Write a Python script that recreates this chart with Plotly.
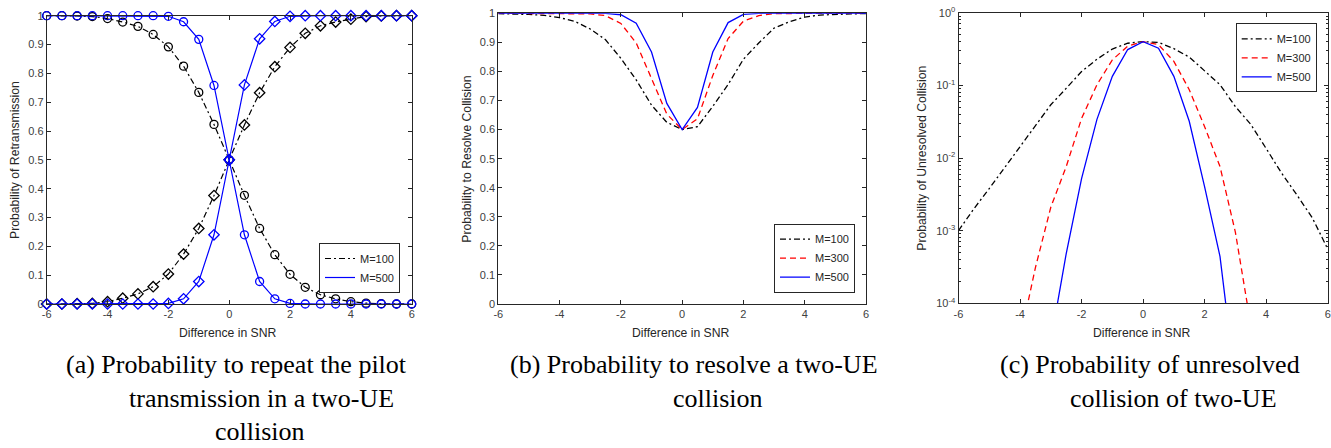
import plotly.graph_objects as go

W, H = 1331, 448

# ---------------- data ----------------
snr = [-6, -5.5, -5, -4.5, -4, -3.5, -3, -2.5, -2, -1.5, -1, -0.5, 0,
       0.5, 1, 1.5, 2, 2.5, 3, 3.5, 4, 4.5, 5, 5.5, 6]

# (a) probability of retransmission (two branches per M)
a_m100_circ = [1.000, 1.000, 0.999, 0.997, 0.990, 0.978, 0.963, 0.935, 0.892, 0.825, 0.734, 0.623, 0.500,
               0.377, 0.262, 0.171, 0.103, 0.058, 0.032, 0.018, 0.008, 0.003, 0.001, 0.000, 0.000]
a_m100_diam = [0.000, 0.000, 0.001, 0.002, 0.008, 0.020, 0.035, 0.060, 0.104, 0.173, 0.262, 0.376, 0.500,
               0.621, 0.733, 0.823, 0.890, 0.939, 0.965, 0.978, 0.988, 0.997, 0.999, 1.000, 1.000]
a_m500_circ = [1.000, 1.000, 1.000, 1.000, 1.000, 1.000, 1.000, 1.000, 0.998, 0.979, 0.918, 0.758, 0.500,
               0.240, 0.078, 0.018, 0.002, 0.000, 0.000, 0.000, 0.000, 0.000, 0.000, 0.000, 0.000]
a_m500_diam = [0.000, 0.000, 0.000, 0.000, 0.000, 0.000, 0.000, 0.000, 0.002, 0.018, 0.078, 0.240, 0.500,
               0.760, 0.920, 0.980, 0.998, 1.000, 1.000, 1.000, 1.000, 1.000, 1.000, 1.000, 1.000]

# (b) probability to resolve collision
b_m100 = [0.999, 0.998, 0.996, 0.993, 0.985, 0.972, 0.946, 0.909, 0.845, 0.771, 0.684, 0.625, 0.600,
          0.610, 0.680, 0.755, 0.842, 0.898, 0.949, 0.971, 0.987, 0.994, 0.997, 0.998, 0.999]
b_m300 = [1.000, 1.000, 1.000, 1.000, 1.000, 0.9997, 0.998, 0.992, 0.965, 0.898, 0.776, 0.653, 0.600,
          0.637, 0.786, 0.913, 0.973, 0.992, 0.999, 1.000, 1.000, 1.000, 1.000, 1.000, 1.000]
b_m500 = [1.000, 1.000, 1.000, 1.000, 1.000, 1.000, 1.000, 0.9995, 0.995, 0.966, 0.867, 0.690, 0.600,
          0.676, 0.867, 0.968, 0.996, 0.9996, 1.000, 1.000, 1.000, 1.000, 1.000, 1.000, 1.000]

# (c) probability of unresolved collision (log scale)
c_m100 = [1.0e-3, 2.0e-3, 3.8e-3, 7.4e-3, 1.48e-2, 2.8e-2, 5.4e-2, 9.1e-2, 0.155, 0.229, 0.316, 0.380, 0.400,
          0.390, 0.320, 0.245, 0.158, 0.102, 0.051, 0.029, 1.35e-2, 6.2e-3, 3.1e-3, 1.5e-3, 5.6e-4]
c_m300 = [None, None, None, None, 3.2e-5, 3.1e-4, 2.1e-3, 7.6e-3, 3.5e-2, 0.102, 0.224, 0.347, 0.400,
          0.363, 0.214, 0.087, 2.7e-2, 7.6e-3, 9.5e-4, 5.0e-5, None, None, None, None, None]
c_m500 = [None, None, None, None, None, None, 3.0e-5, 4.8e-4, 5.2e-3, 3.4e-2, 0.133, 0.311, 0.400,
          0.324, 0.133, 3.2e-2, 4.0e-3, 4.4e-4, 8.0e-6, None, None, None, None, None, None]

x_ticks = [-6, -4, -2, 0, 2, 4, 6]
x_tick_text = ["-6", "-4", "-2", "0", "2", "4", "6"]
y_ticks_lin = [0, 0.1, 0.2, 0.3, 0.4, 0.5, 0.6, 0.7, 0.8, 0.9, 1]
y_tick_text_lin = ["0", "0.1", "0.2", "0.3", "0.4", "0.5", "0.6", "0.7", "0.8", "0.9", "1"]
y_ticks_log = [1e-4, 1e-3, 1e-2, 1e-1, 1]
y_tick_text_log = ["10<sup>-4</sup>", "10<sup>-3</sup>", "10<sup>-2</sup>", "10<sup>-1</sup>", "10<sup>0</sup>"]

x_title = "Difference in SNR"
y_titles = ["Probability of Retransmission", "Probability to Resolve Collision",
            "Probability of Unresolved Collision"]
captions = [
    ["(a) Probability to repeat the pilot", "transmission in a two-UE", "collision"],
    ["(b) Probability to resolve a two-UE", "collision"],
    ["(c) Probability of unresolved", "collision of two-UE"],
]

# ---------------- styles ----------------
BLACK, RED, BLUE = "#000000", "#ff0000", "#0000ff"
DASHDOT = "6px,3px,2px,3px"
DASH = "6px,4px"
AXC = "#262626"
TXT = "#404040"
SANS = "Liberation Sans"
SERIF = "Liberation Serif"


def px_x(p):
    return p / W


def px_y(p):
    return 1 - p / H


# plot areas in pixels: (left, right, top, bottom)
areas = [(46.7, 411.7, 15.7, 304.0), (498.3, 866.0, 13.3, 304.0), (958.5, 1327.7, 12.7, 303.3)]

fig = go.Figure()

# ---- panel a ----
def add_a(yvals, color, dash, symbol, name, show):
    fig.add_trace(go.Scatter(x=snr, y=yvals, mode="lines", line=dict(color=color, width=1.2, dash=dash),
                             name=name, showlegend=show, legend="legend", xaxis="x", yaxis="y"))
    fig.add_trace(go.Scatter(x=snr, y=yvals, mode="markers", cliponaxis=False,
                             marker=dict(symbol=symbol, size=8, color=color,
                                         line=dict(color=color, width=1.3)),
                             showlegend=False, xaxis="x", yaxis="y"))

add_a(a_m100_circ, BLACK, DASHDOT, "circle-open", "M=100", True)
add_a(a_m100_diam, BLACK, DASHDOT, "diamond-open", "M=100", False)
add_a(a_m500_circ, BLUE, "solid", "circle-open", "M=500", True)
add_a(a_m500_diam, BLUE, "solid", "diamond-open", "M=500", False)

# ---- panel b ----
for yv, col, dsh, nm in [(b_m100, BLACK, DASHDOT, "M=100"), (b_m300, RED, DASH, "M=300"),
                         (b_m500, BLUE, "solid", "M=500")]:
    fig.add_trace(go.Scatter(x=snr, y=yv, mode="lines", line=dict(color=col, width=1.3, dash=dsh),
                             name=nm, legend="legend2", xaxis="x2", yaxis="y2"))

# ---- panel c ----
for yv, col, dsh, nm in [(c_m100, BLACK, DASHDOT, "M=100"), (c_m300, RED, DASH, "M=300"),
                         (c_m500, BLUE, "solid", "M=500")]:
    fig.add_trace(go.Scatter(x=snr, y=yv, mode="lines", line=dict(color=col, width=1.3, dash=dsh),
                             name=nm, legend="legend3", xaxis="x3", yaxis="y3", connectgaps=False))

common_axis = dict(showline=True, linecolor=AXC, linewidth=1, mirror="ticks", ticks="inside",
                   ticklen=4, tickcolor=AXC, showgrid=False, zeroline=False,
                   tickfont=dict(family=SANS, size=11, color=TXT), automargin=False)

layout = dict(width=W, height=H, margin=dict(l=0, r=0, t=0, b=0), paper_bgcolor="white",
              plot_bgcolor="white", showlegend=True)

for i, (l, r, t, b) in enumerate(areas):
    sx = "" if i == 0 else str(i + 1)
    layout["xaxis" + sx] = dict(common_axis, domain=[px_x(l), px_x(r)], range=[-6, 6],
                                tickvals=x_ticks, ticktext=x_tick_text, anchor="y" + sx)
    if i < 2:
        layout["yaxis" + sx] = dict(common_axis, domain=[px_y(b), px_y(t)], range=[0, 1],
                                    tickvals=y_ticks_lin, ticktext=y_tick_text_lin, anchor="x" + sx)
    else:
        layout["yaxis" + sx] = dict(common_axis, domain=[px_y(b), px_y(t)], type="log", range=[-4, 0],
                                    tickvals=y_ticks_log, ticktext=y_tick_text_log, anchor="x" + sx,
                                    minor=dict(ticks="inside", ticklen=2, tickcolor=AXC,
                                               tickvals=[m * 10 ** e for e in range(-4, 0) for m in range(2, 10)]))

leg_common = dict(bgcolor="white", bordercolor=AXC, borderwidth=1,
                  font=dict(family=SANS, size=11, color=AXC), tracegroupgap=0, itemwidth=30)
layout["legend"] = dict(leg_common, x=px_x(400), y=px_y(293), xanchor="right", yanchor="bottom")
layout["legend2"] = dict(leg_common, x=px_x(855), y=px_y(292.7), xanchor="right", yanchor="bottom")
layout["legend3"] = dict(leg_common, x=px_x(1316.7), y=px_y(23.3), xanchor="right", yanchor="top")

fig.update_layout(**layout)

ann = []
ytitle_pos = [(15.0, 160.0), (466.7, 159.0), (921.7, 158.0)]
xtitle_x = [228.0, 680.7, 1141.7]
for i in range(3):
    ann.append(dict(text=y_titles[i], x=px_x(ytitle_pos[i][0]), y=px_y(ytitle_pos[i][1]), xref="paper",
                    yref="paper", textangle=-90, showarrow=False, xanchor="center", yanchor="middle",
                    font=dict(family=SANS, size=12.2, color=AXC)))
    ann.append(dict(text=x_title, x=px_x(xtitle_x[i]), y=px_y(333.0), xref="paper", yref="paper",
                    showarrow=False, xanchor="center", yanchor="middle",
                    font=dict(family=SANS, size=12.2, color=AXC)))

cap_pos = [[(237.0, 364.0), (261.0, 398.0), (260.0, 431.0)],
           [(694.0, 364.0), (717.5, 398.0)],
           [(1150.0, 364.0), (1173.5, 398.0)]]
for lines, poss in zip(captions, cap_pos):
    for txt, (cx, cy) in zip(lines, poss):
        ann.append(dict(text=txt, x=px_x(cx), y=px_y(cy), xref="paper", yref="paper", showarrow=False,
                        xanchor="center", yanchor="middle", font=dict(family=SERIF, size=26, color="black")))

fig.update_layout(annotations=ann)
fig.write_html("out.html")
